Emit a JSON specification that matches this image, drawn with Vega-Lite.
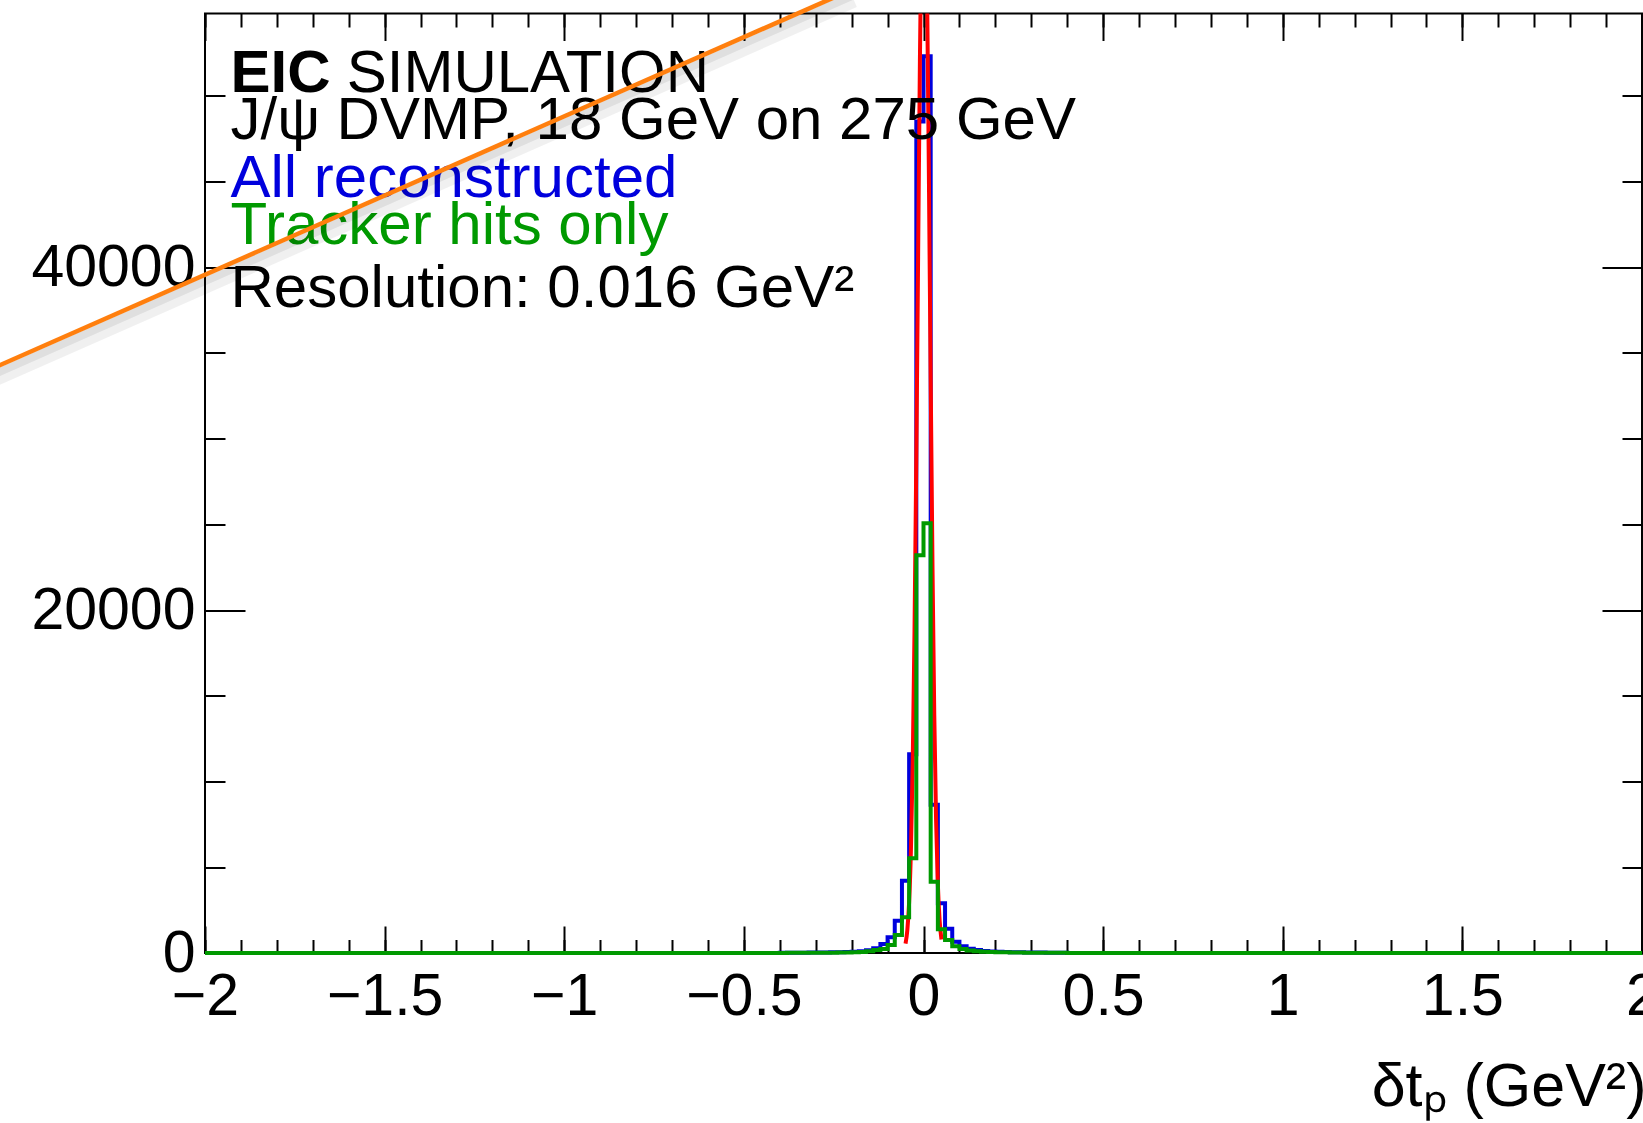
{
  "$schema": "https://vega.github.io/schema/vega-lite/v6.json",
  "width": 1437,
  "height": 939.5,
  "autosize": {"type": "none"},
  "padding": {"left": 205, "top": 13.5, "right": 1, "bottom": 170},
  "background": "white",
  "config": {
    "view": {"stroke": "black", "strokeWidth": 2},
    "font": "Liberation Sans",
    "axis": {
      "domain": false,
      "grid": false,
      "tickColor": "black",
      "tickWidth": 2,
      "labelFont": "Liberation Sans",
      "labelFontSize": 59,
      "labelColor": "black",
      "labelFlush": false,
      "labelOverlap": false
    }
  },
  "datasets": {
    "blue": [
      {"t": -2, "n": 4}, {"t": -0.4, "n": 14}, {"t": -0.38, "n": 16}, {"t": -0.36, "n": 18}, {"t": -0.34, "n": 21},
      {"t": -0.32, "n": 25}, {"t": -0.3, "n": 29}, {"t": -0.28, "n": 34}, {"t": -0.26, "n": 40}, {"t": -0.24, "n": 48},
      {"t": -0.22, "n": 58}, {"t": -0.2, "n": 72}, {"t": -0.18, "n": 105}, {"t": -0.16, "n": 165}, {"t": -0.14, "n": 274},
      {"t": -0.12, "n": 525}, {"t": -0.1, "n": 915}, {"t": -0.08, "n": 1883}, {"t": -0.06, "n": 4216}, {"t": -0.04, "n": 11600},
      {"t": -0.02, "n": 48500}, {"t": 0, "n": 52300}, {"t": 0.02, "n": 8650}, {"t": 0.04, "n": 2900}, {"t": 0.06, "n": 1420},
      {"t": 0.08, "n": 660}, {"t": 0.1, "n": 400}, {"t": 0.12, "n": 250}, {"t": 0.14, "n": 170}, {"t": 0.16, "n": 120},
      {"t": 0.18, "n": 90}, {"t": 0.2, "n": 70}, {"t": 0.22, "n": 56}, {"t": 0.24, "n": 46}, {"t": 0.26, "n": 38},
      {"t": 0.28, "n": 32}, {"t": 0.3, "n": 27}, {"t": 0.32, "n": 23}, {"t": 0.34, "n": 20}, {"t": 0.36, "n": 17},
      {"t": 0.38, "n": 15}, {"t": 0.4, "n": 4}, {"t": 2, "n": 4}
    ],
    "green": [
      {"t": -2, "n": 2}, {"t": -0.4, "n": 7}, {"t": -0.38, "n": 8}, {"t": -0.36, "n": 9}, {"t": -0.34, "n": 10},
      {"t": -0.32, "n": 12}, {"t": -0.3, "n": 14}, {"t": -0.28, "n": 17}, {"t": -0.26, "n": 20}, {"t": -0.24, "n": 24},
      {"t": -0.22, "n": 30}, {"t": -0.2, "n": 38}, {"t": -0.18, "n": 55}, {"t": -0.16, "n": 95}, {"t": -0.14, "n": 175},
      {"t": -0.12, "n": 233}, {"t": -0.1, "n": 466}, {"t": -0.08, "n": 1050}, {"t": -0.06, "n": 2080}, {"t": -0.04, "n": 5520},
      {"t": -0.02, "n": 23200}, {"t": 0, "n": 25070}, {"t": 0.02, "n": 4157}, {"t": 0.04, "n": 1380}, {"t": 0.06, "n": 760},
      {"t": 0.08, "n": 400}, {"t": 0.1, "n": 230}, {"t": 0.12, "n": 150}, {"t": 0.14, "n": 105}, {"t": 0.16, "n": 75},
      {"t": 0.18, "n": 58}, {"t": 0.2, "n": 46}, {"t": 0.22, "n": 37}, {"t": 0.24, "n": 30}, {"t": 0.26, "n": 25},
      {"t": 0.28, "n": 21}, {"t": 0.3, "n": 18}, {"t": 0.32, "n": 15}, {"t": 0.34, "n": 13}, {"t": 0.36, "n": 11},
      {"t": 0.38, "n": 9}, {"t": 0.4, "n": 2}, {"t": 2, "n": 2}
    ],
    "fit": [
      {"t": -0.05, "n": 547}, {"t": -0.045, "n": 1334}, {"t": -0.04, "n": 2967}, {"t": -0.035, "n": 6016},
      {"t": -0.03, "n": 11128}, {"t": -0.025, "n": 18785}, {"t": -0.02, "n": 28919}, {"t": -0.015, "n": 40619},
      {"t": -0.01, "n": 52046}, {"t": -0.005, "n": 60840}, {"t": 0, "n": 64880}, {"t": 0.005, "n": 63117},
      {"t": 0.01, "n": 56017}, {"t": 0.015, "n": 45351}, {"t": 0.02, "n": 33495}, {"t": 0.025, "n": 22568},
      {"t": 0.03, "n": 13873}, {"t": 0.035, "n": 7781}, {"t": 0.04, "n": 3979}, {"t": 0.045, "n": 1856},
      {"t": 0.05, "n": 790}
    ],
    "slash": [
      {"t": -2.6, "n": 34020}, {"t": -0.2, "n": 56190}
    ]
  },
  "resolve": {"axis": {"x": "independent", "y": "independent"}},
  "layer": [
    {
      "data": {"name": "blue"},
      "mark": {"type": "line", "interpolate": "step-after", "color": "#0000dd", "strokeWidth": 4},
      "encoding": {
        "x": {
          "field": "t", "type": "quantitative",
          "scale": {"domain": [-2, 2], "nice": false, "zero": false},
          "axis": {
            "orient": "bottom", "values": [-2, -1.5, -1, -0.5, 0, 0.5, 1, 1.5, 2], "format": "~g",
            "tickSize": -27, "labelPadding": 41,
            "title": "δtₚ (GeV²)", "titleFont": "Liberation Sans", "titleFontSize": 61,
            "titleFontWeight": "normal", "titleColor": "black", "titleAnchor": "end",
            "titleAlign": "right", "titleBaseline": "alphabetic", "titleY": 152, "titleX": 1441
          }
        },
        "y": {
          "field": "n", "type": "quantitative",
          "scale": {"domain": [0, 54800], "nice": false, "zero": true},
          "axis": {"orient": "left", "values": [0, 20000, 40000], "format": "d", "tickSize": -40, "labelPadding": 50, "title": null}
        }
      }
    },
    {
      "data": {"name": "fit"},
      "mark": {"type": "line", "interpolate": "monotone", "color": "#ff0000", "strokeWidth": 4, "clip": true},
      "encoding": {
        "x": {
          "field": "t", "type": "quantitative",
          "axis": {"orient": "top", "values": [-2, -1.5, -1, -0.5, 0, 0.5, 1, 1.5, 2], "tickSize": -27, "labels": false, "title": null}
        },
        "y": {
          "field": "n", "type": "quantitative",
          "axis": {"orient": "right", "values": [0, 20000, 40000], "tickSize": -40, "labels": false, "title": null}
        }
      }
    },
    {
      "data": {"name": "green"},
      "mark": {"type": "line", "interpolate": "step-after", "color": "#009900", "strokeWidth": 4},
      "encoding": {
        "x": {
          "field": "t", "type": "quantitative",
          "axis": {
            "orient": "bottom",
            "values": [-2, -1.9, -1.8, -1.7, -1.6, -1.5, -1.4, -1.3, -1.2, -1.1, -1, -0.9, -0.8, -0.7, -0.6, -0.5, -0.4, -0.3, -0.2, -0.1, 0, 0.1, 0.2, 0.3, 0.4, 0.5, 0.6, 0.7, 0.8, 0.9, 1, 1.1, 1.2, 1.3, 1.4, 1.5, 1.6, 1.7, 1.8, 1.9, 2],
            "tickSize": -13.5, "labels": false, "title": null
          }
        },
        "y": {
          "field": "n", "type": "quantitative",
          "axis": {
            "orient": "left",
            "values": [0, 5000, 10000, 15000, 20000, 25000, 30000, 35000, 40000, 45000, 50000],
            "tickSize": -20, "labels": false, "title": null
          }
        }
      }
    },
    {
      "data": {"values": [{"line": "EIC"}]},
      "mark": {"type": "text", "align": "left", "baseline": "alphabetic", "fontSize": 60, "fontWeight": "bold", "font": "Liberation Sans", "color": "black"},
      "encoding": {
        "x": {"datum": -1.929, "type": "quantitative", "axis": null},
        "y": {"datum": 50204, "type": "quantitative", "axis": null},
        "text": {"field": "line"}
      }
    },
    {
      "data": {"values": [{"line": "SIMULATION"}]},
      "mark": {"type": "text", "align": "left", "baseline": "alphabetic", "fontSize": 60, "font": "Liberation Sans", "color": "black"},
      "encoding": {
        "x": {"datum": -1.6055, "type": "quantitative", "axis": null},
        "y": {"datum": 50204, "type": "quantitative", "axis": null},
        "text": {"field": "line"}
      }
    },
    {
      "data": {"values": [{"line": "J/ψ DVMP, 18 GeV on 275 GeV"}]},
      "mark": {"type": "text", "align": "left", "baseline": "alphabetic", "fontSize": 60, "font": "Liberation Sans", "color": "black"},
      "encoding": {
        "x": {"datum": -1.929, "type": "quantitative", "axis": null},
        "y": {"datum": 47464, "type": "quantitative", "axis": null},
        "text": {"field": "line"}
      }
    },
    {
      "data": {"values": [{"line": "All reconstructed"}]},
      "mark": {"type": "text", "align": "left", "baseline": "alphabetic", "fontSize": 60, "font": "Liberation Sans", "color": "#0000dd"},
      "encoding": {
        "x": {"datum": -1.929, "type": "quantitative", "axis": null},
        "y": {"datum": 44082, "type": "quantitative", "axis": null},
        "text": {"field": "line"}
      }
    },
    {
      "data": {"values": [{"line": "Tracker hits only"}]},
      "mark": {"type": "text", "align": "left", "baseline": "alphabetic", "fontSize": 60, "font": "Liberation Sans", "color": "#009900"},
      "encoding": {
        "x": {"datum": -1.929, "type": "quantitative", "axis": null},
        "y": {"datum": 41341, "type": "quantitative", "axis": null},
        "text": {"field": "line"}
      }
    },
    {
      "data": {"values": [{"line": "Resolution: 0.016 GeV²"}]},
      "mark": {"type": "text", "align": "left", "baseline": "alphabetic", "fontSize": 60, "font": "Liberation Sans", "color": "black"},
      "encoding": {
        "x": {"datum": -1.929, "type": "quantitative", "axis": null},
        "y": {"datum": 37668, "type": "quantitative", "axis": null},
        "text": {"field": "line"}
      }
    },
    {
      "data": {"name": "slash"},
      "mark": {"type": "line", "color": "#000000", "opacity": 0.06, "strokeWidth": 16, "yOffset": 10, "xOffset": 2},
      "encoding": {
        "x": {"field": "t", "type": "quantitative", "axis": null},
        "y": {"field": "n", "type": "quantitative", "axis": null}
      }
    },
    {
      "data": {"name": "slash"},
      "mark": {"type": "line", "color": "#000000", "opacity": 0.07, "strokeWidth": 8, "yOffset": 6, "xOffset": 1},
      "encoding": {
        "x": {"field": "t", "type": "quantitative", "axis": null},
        "y": {"field": "n", "type": "quantitative", "axis": null}
      }
    },
    {
      "data": {"name": "slash"},
      "mark": {"type": "line", "color": "#ff7f0e", "strokeWidth": 4.5},
      "encoding": {
        "x": {
          "field": "t", "type": "quantitative",
          "axis": {
            "orient": "top",
            "values": [-2, -1.9, -1.8, -1.7, -1.6, -1.5, -1.4, -1.3, -1.2, -1.1, -1, -0.9, -0.8, -0.7, -0.6, -0.5, -0.4, -0.3, -0.2, -0.1, 0, 0.1, 0.2, 0.3, 0.4, 0.5, 0.6, 0.7, 0.8, 0.9, 1, 1.1, 1.2, 1.3, 1.4, 1.5, 1.6, 1.7, 1.8, 1.9, 2],
            "tickSize": -13.5, "labels": false, "title": null
          }
        },
        "y": {
          "field": "n", "type": "quantitative",
          "axis": {
            "orient": "right",
            "values": [0, 5000, 10000, 15000, 20000, 25000, 30000, 35000, 40000, 45000, 50000],
            "tickSize": -20, "labels": false, "title": null
          }
        }
      }
    }
  ]
}
